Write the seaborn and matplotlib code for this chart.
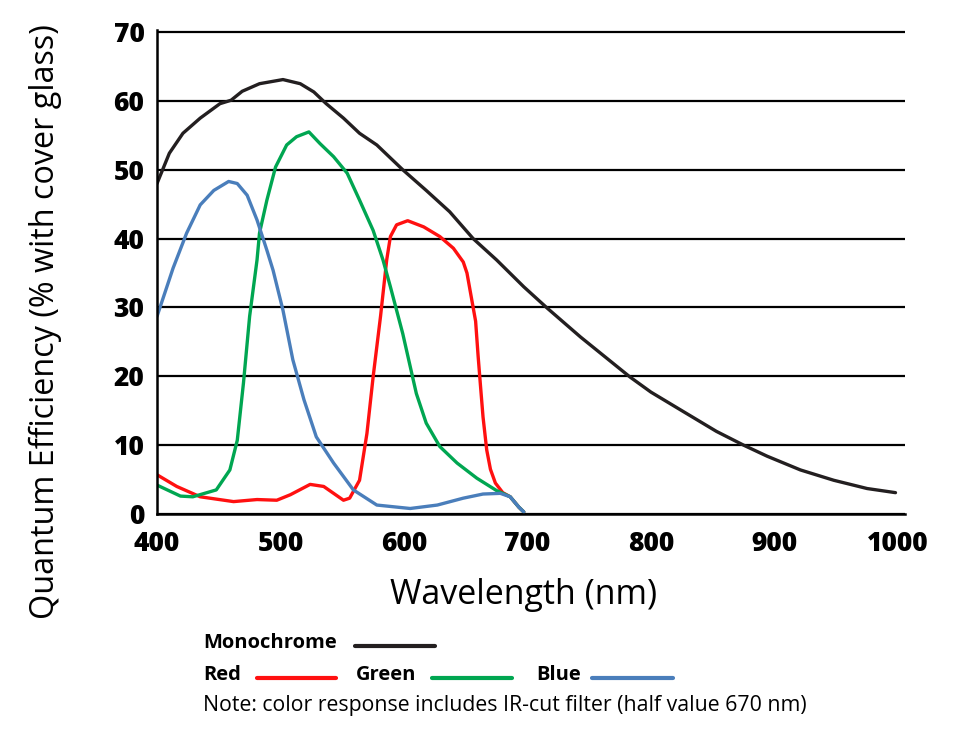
import seaborn as sns
import matplotlib.pyplot as plt
import pandas as pd
from matplotlib.lines import Line2D

# values (wavelength in nm, QE in %)
mono_nm = [400, 410, 421, 435, 451, 460, 469, 483, 502, 516, 527, 537, 551, 564, 578,
           599, 618, 637, 656, 675, 697, 716, 743, 783, 800, 826, 853, 875, 894, 921,
           948, 975, 998]
mono_qe = [48.0, 52.4, 55.3, 57.5, 59.6, 60.1, 61.4, 62.5, 63.1, 62.5, 61.3, 59.6, 57.5, 55.3, 53.6,
           50.0, 47.0, 43.9, 40.0, 36.9, 33.0, 29.9, 25.7, 19.9, 17.7, 14.9, 12.0, 10.0, 8.4, 6.4,
           4.9, 3.7, 3.1]

red_nm = [400, 416, 435, 462, 481, 497, 508, 524, 535, 551, 556, 564, 570, 575, 581,
          586, 589, 594, 603, 616, 629, 640, 648, 651, 655, 658, 660, 662, 664, 667,
          670, 674, 680, 686, 693, 697]
red_qe = [5.7, 4.0, 2.5, 1.8, 2.1, 2.0, 2.8, 4.3, 4.0, 2.0, 2.3, 4.9, 11.7, 19.9, 28.7,
          36.9, 40.3, 42.0, 42.6, 41.7, 40.3, 38.6, 36.6, 35.0, 31.0, 28.0, 23.0, 18.5, 14.1, 9.3,
          6.5, 4.5, 3.1, 2.5, 1.0, 0.3]

green_nm = [400, 419, 429, 448, 459, 465, 470, 475, 481, 483, 489, 496, 505, 513, 523,
            532, 543, 554, 564, 575, 583, 589, 599, 610, 618, 629, 643, 659, 675, 680,
            686, 693, 697]
green_qe = [4.2, 2.6, 2.5, 3.5, 6.4, 10.7, 19.0, 28.7, 36.9, 40.8, 45.6, 50.4, 53.6, 54.8, 55.5,
            53.8, 51.9, 49.5, 45.6, 41.2, 36.9, 33.0, 26.2, 17.5, 13.2, 9.8, 7.4, 5.2, 3.4, 3.0,
            2.5, 1.0, 0.3]

blue_nm = [400, 408, 413, 424, 435, 446, 458, 465, 473, 481, 489, 494, 502, 510, 519,
           529, 543, 559, 578, 605, 627, 648, 664, 678, 686, 693, 697]
blue_qe = [28.7, 33.0, 35.7, 40.8, 44.9, 47.0, 48.3, 48.0, 46.3, 42.7, 38.3, 35.4, 29.6, 22.4, 16.6,
           11.2, 7.4, 3.5, 1.3, 0.8, 1.3, 2.3, 2.9, 3.0, 2.5, 1.0, 0.3]

series_names = ["Monochrome", "Red", "Green", "Blue"]
colors = {"Monochrome": "#231f20", "Red": "#ff1010", "Green": "#00a651", "Blue": "#4a7ebb"}

frames = []
for name, nm, qe in zip(series_names,
                        [mono_nm, red_nm, green_nm, blue_nm],
                        [mono_qe, red_qe, green_qe, blue_qe]):
    frames.append(pd.DataFrame({"wavelength": nm, "qe": qe, "series": name}))
data = pd.concat(frames, ignore_index=True)

sns.set_style("white")
plt.rcParams['font.family'] = ['Open Sans', 'DejaVu Sans']
plt.rcParams['text.color'] = 'black'
plt.rcParams['xtick.color'] = 'black'
plt.rcParams['ytick.color'] = 'black'

W, H = 954, 746
fig = plt.figure(figsize=(W / 100, H / 100), dpi=100)
ax = fig.add_axes([157 / W, 1 - 514 / H, (905 - 157) / W, (514 - 30) / H])

sns.lineplot(data=data, x="wavelength", y="qe", hue="series", palette=colors,
             hue_order=series_names, estimator=None, sort=False, linewidth=2.4,
             legend=False, ax=ax)

ax.set_xlim(400, 1005.7)
ax.set_ylim(0, 70.3)
ax.set_xticks(range(400, 1001, 100))
ax.set_yticks(range(0, 71, 10))
ax.yaxis.grid(True, color="black", linewidth=1.6)
ax.xaxis.grid(False)
ax.set_axisbelow(True)

for side in ["top", "right"]:
    ax.spines[side].set_visible(False)
for side in ["left", "bottom"]:
    ax.spines[side].set_color("black")
    ax.spines[side].set_linewidth(1.8)

ax.tick_params(axis="x", direction="out", length=7, width=1.8, pad=5, colors="black")
ax.tick_params(axis="y", direction="out", length=5, width=1.8, pad=4, colors="black")
for lab in ax.get_xticklabels() + ax.get_yticklabels():
    lab.set_fontsize(19)
    lab.set_fontweight("heavy")
    lab.set_color("black")

ax.set_xlabel("")
ax.set_ylabel("")
fig.text(524 / W, 1 - 595 / H, "Wavelength (nm)", fontsize=24.5, ha="center", va="center",
         color="black")
fig.text(45 / W, 1 - 322 / H, "Quantum Efficiency (% with cover glass)", fontsize=23.3,
         rotation=90, ha="center", va="center", color="black")

# legend built by hand below the plot
def legend_item(label, x_text, x0, x1, y, color):
    fig.text(x_text / W, 1 - y / H, label, fontsize=14.5, fontweight="bold",
             ha="left", va="center", color="black")
    fig.add_artist(Line2D([x0 / W, x1 / W], [1 - (y + 3) / H, 1 - (y + 3) / H],
                          color=color, linewidth=3, transform=fig.transFigure))

legend_item("Monochrome", 203, 355, 435, 643, colors["Monochrome"])
legend_item("Red", 203, 257, 336, 675, colors["Red"])
legend_item("Green", 356, 432, 512, 675, colors["Green"])
legend_item("Blue", 536, 592, 673, 675, colors["Blue"])
fig.text(203 / W, 1 - 706 / H,
         "Note: color response includes IR-cut filter (half value 670 nm)",
         fontsize=15.3, ha="left", va="center", color="black")

fig.savefig("out.png", dpi=100)
